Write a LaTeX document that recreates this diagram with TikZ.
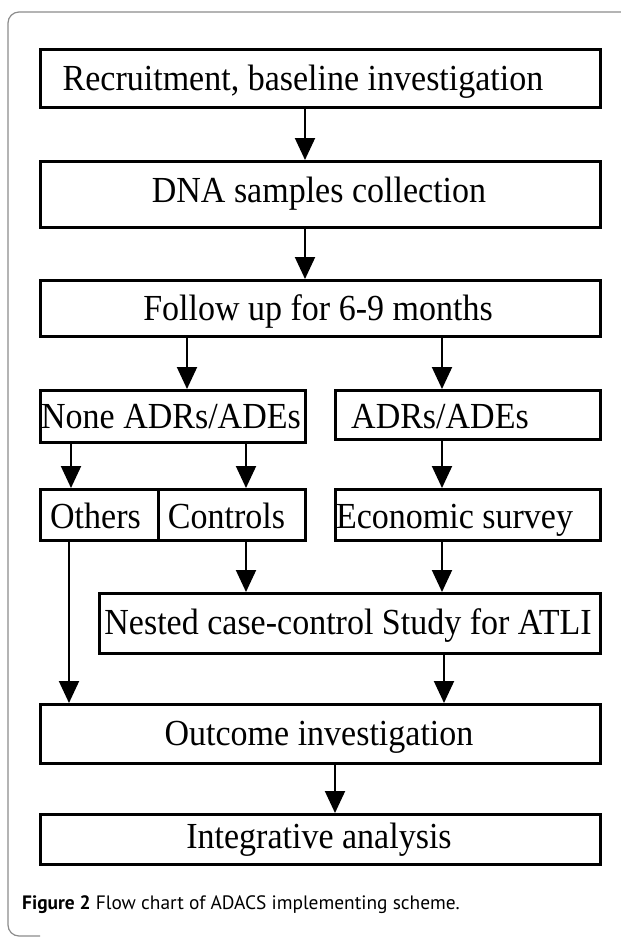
\documentclass[tikz,border=0pt]{standalone}
\usepackage{fontspec}
\usepackage{graphicx}
\setmainfont{Liberation Serif}
\newfontfamily\capfont{PT Sans}
\usetikzlibrary{arrows.meta}
\newcommand{\tallt}[1]{\scalebox{1}[1.08]{#1}}
\begin{document}
\begin{tikzpicture}[x=1pt,y=-1pt,
  box/.style={draw, line width=2.8pt, inner sep=0pt, anchor=north west},
  lbl/.style={anchor=base, inner sep=0pt, font=\fontsize{34}{40}\selectfont},
  arr/.style={line width=2pt, -{Triangle[length=22pt,width=20pt]}},
  framec/.style={draw=black!45, line width=1.2pt, rounded corners=11pt}]
\useasboundingbox (0,0) rectangle (621,938);
\fill[white] (0,0) rectangle (621,938);
% frame
\draw[framec] (640,12) -- (8,12) -- (8,936) -- (40,936);
% boxes
\node[box, minimum width=560pt, minimum height=58pt] (b1) at (39,48) {};
\node[box, minimum width=560pt, minimum height=66pt] (b2) at (39,160) {};
\node[box, minimum width=560pt, minimum height=56pt] (b3) at (39,279) {};
\node[box, minimum width=265pt, minimum height=52pt] (b4) at (39,389) {};
\node[box, minimum width=265pt, minimum height=49pt] (b5) at (334,389) {};
\node[box, minimum width=118pt, minimum height=51pt] (b6) at (39,488) {};
\node[box, minimum width=147pt, minimum height=51pt] (b7) at (157,488) {};
\node[box, minimum width=265pt, minimum height=51pt] (b8) at (334,488) {};
\node[box, minimum width=501pt, minimum height=60pt] (b9) at (98,592) {};
\node[box, minimum width=560pt, minimum height=59pt] (b10) at (39,703) {};
\node[box, minimum width=560pt, minimum height=50pt] (b11) at (39,813) {};
% texts
\node[lbl] (t1) at (303,90) {\tallt{Recruitment, baseline investigation}};
\node[lbl] (t2) at (319,202) {\tallt{DNA samples collection}};
\node[lbl] (t3) at (318,320) {\tallt{Follow up for 6-9 months}};
\node[lbl] (t4) at (171,428) {\tallt{None ADRs/ADEs}};
\node[lbl] (t5) at (440,428) {\tallt{ADRs/ADEs}};
\node[lbl] (t6) at (95.5,528) {\tallt{Others}};
\node[lbl] (t7) at (226.5,528) {\tallt{Controls}};
\node[lbl] (t8) at (454.5,528) {\tallt{Economic survey}};
\node[lbl] (t9) at (348,634) {\tallt{Nested case-control Study for ATLI}};
\node[lbl] (t10) at (319,745) {\tallt{Outcome investigation}};
\node[lbl] (t11) at (319,848) {\tallt{Integrative analysis}};
% caption
\node[anchor=base west, inner sep=0pt, font=\capfont\fontsize{19.4}{22}\selectfont] (cap) at (22,909) {\textbf{Figure 2} Flow chart of ADACS implementing scheme.};
% arrow columns
\coordinate (xa) at (305,0);
\coordinate (xb) at (187,0);
\coordinate (xc) at (442,0);
\coordinate (xd) at (71,0);
\coordinate (xe) at (246,0);
\coordinate (xf) at (69,0);
\coordinate (xg) at (444,0);
\coordinate (xh) at (335,0);
\draw[arr] (xa |- b1.south) -- (xa |- b2.north);
\draw[arr] (xa |- b2.south) -- (xa |- b3.north);
\draw[arr] (xb |- b3.south) -- (xb |- b4.north);
\draw[arr] (xc |- b3.south) -- (xc |- b5.north);
\draw[arr] (xd |- b4.south) -- (xd |- b6.north);
\draw[arr] (xe |- b4.south) -- (xe |- b7.north);
\draw[arr] (xc |- b5.south) -- (xc |- b8.north);
\draw[arr] (xf |- b6.south) -- (xf |- b10.north);
\draw[arr] (xe |- b7.south) -- (xe |- b9.north);
\draw[arr] (xc |- b8.south) -- (xc |- b9.north);
\draw[arr] (xg |- b9.south) -- (xg |- b10.north);
\draw[arr] (xh |- b10.south) -- (xh |- b11.north);
\end{tikzpicture}
\end{document}
